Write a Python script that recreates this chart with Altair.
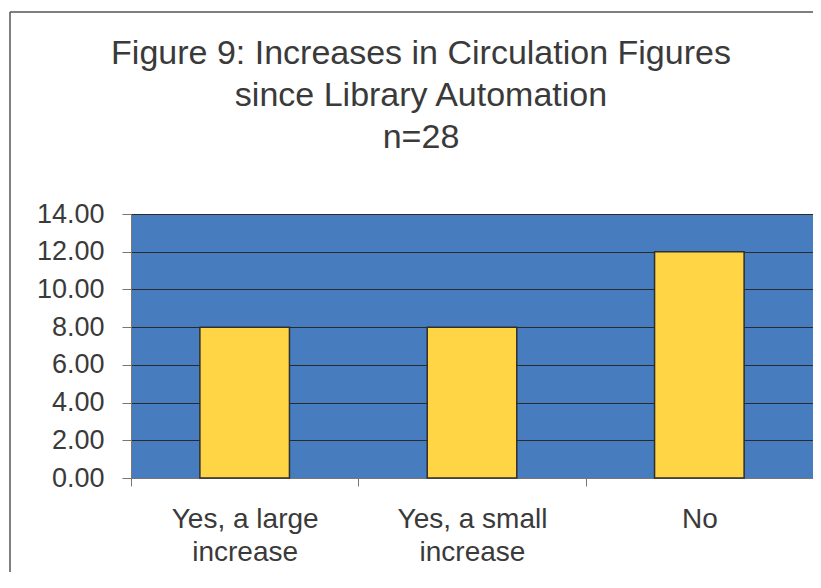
import altair as alt
import pandas as pd

categories = ["Yes, a large increase", "Yes, a small increase", "No"]
counts = [8, 8, 12]
y_ticks = [0, 2, 4, 6, 8, 10, 12, 14]
title_lines = ["Figure 9: Increases in Circulation Figures", "since Library Automation", "n=28"]

df = pd.DataFrame({"category": categories, "count": counts})

FONT = "Liberation Sans"
TXT = "#3a3a3a"

bars = alt.Chart(df).mark_bar(
    width=alt.RelativeBandSize(0.394),
    color="#ffd445",
    stroke="#2f2f2f",
    strokeWidth=1.5,
).encode(
    x=alt.X(
        "category:N",
        sort=categories,
        scale=alt.Scale(paddingInner=0, paddingOuter=0),
        axis=alt.Axis(
            title=None,
            labelAngle=0,
            tickBand="extent",
            tickSize=8,
            tickColor="#777777",
            domainColor="#777777",
            grid=False,
            labelFont=FONT,
            labelFontSize=28,
            labelColor=TXT,
            labelPadding=19,
            labelLineHeight=33,
            labelBaseline="top",
            labelExpr="split(replace(datum.label, ' increase', '|increase'), '|')",
        ),
    ),
    y=alt.Y(
        "count:Q",
        scale=alt.Scale(domain=[0, 14], nice=False),
        axis=alt.Axis(
            title=None,
            values=y_ticks,
            format=".2f",
            tickSize=9,
            tickColor="#777777",
            domainColor="#777777",
            gridColor="#2a2a2a",
            gridWidth=1,
            labelFont=FONT,
            labelFontSize=27,
            labelColor=TXT,
            labelPadding=18,
        ),
    ),
)

frame_top = alt.Chart(alt.Data(values=[{}])).mark_rule(
    stroke="#555555", strokeWidth=1.5, clip=False
).encode(
    x=alt.value(-121), x2=alt.value(700), y=alt.value(-202),
)

frame_left = alt.Chart(alt.Data(values=[{}])).mark_rule(
    stroke="#555555", strokeWidth=1.5, clip=False
).encode(
    x=alt.value(-121), y=alt.value(-202), y2=alt.value(420),
)

title = alt.Chart(alt.Data(values=[{}])).mark_text(
    text=title_lines,
    font=FONT,
    fontSize=34,
    color=TXT,
    lineHeight=42,
    align="center",
    baseline="alphabetic",
    clip=False,
).encode(
    x=alt.value(290),
    y=alt.value(-150),
)

chart = alt.layer(bars, frame_top, frame_left, title).properties(
    width=682,
    height=264,
    padding={"left": 123, "top": 206, "right": 0, "bottom": 94},
    autosize=alt.AutoSizeParams(type="none"),
    background="#ffffff",
).configure_view(
    fill="#477dbf",
    stroke="#888888",
)

chart.save("out.html", embed_options={"renderer": "svg", "actions": False})
